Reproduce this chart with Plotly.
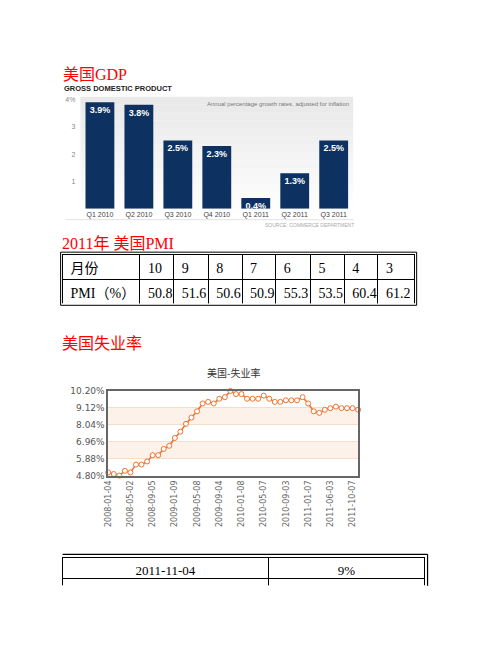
import plotly.graph_objects as go

# --- data ---
gdp_quarters = ["Q1 2010", "Q2 2010", "Q3 2010", "Q4 2010", "Q1 2011", "Q2 2011", "Q3 2011"]
gdp_growth = [3.9, 3.8, 2.5, 2.3, 0.4, 1.3, 2.5]

pmi_months = ["10", "9", "8", "7", "6", "5", "4", "3"]
pmi_values = ["50.8", "51.6", "50.6", "50.9", "55.3", "53.5", "60.4", "61.2"]

jobs_dates = [
    "2008-01-04", "2008-02-01", "2008-03-07", "2008-04-04", "2008-05-02", "2008-06-06",
    "2008-07-03", "2008-08-01", "2008-09-05", "2008-10-03", "2008-11-07", "2008-12-05",
    "2009-01-09", "2009-02-06", "2009-03-06", "2009-04-03", "2009-05-08", "2009-06-05",
    "2009-07-02", "2009-08-07", "2009-09-04", "2009-10-02", "2009-11-06", "2009-12-04",
    "2010-01-08", "2010-02-05", "2010-03-05", "2010-04-02", "2010-05-07", "2010-06-04",
    "2010-07-02", "2010-08-06", "2010-09-03", "2010-10-08", "2010-11-05", "2010-12-03",
    "2011-01-07", "2011-03-04", "2011-04-01", "2011-05-06", "2011-06-03", "2011-07-08",
    "2011-08-05", "2011-09-02", "2011-10-07", "2011-11-04",
]
jobless_rate = [
    5.0, 4.9, 4.8, 5.1, 5.0, 5.5, 5.5, 5.7, 6.1, 6.1, 6.5, 6.7,
    7.2, 7.6, 8.1, 8.5, 8.9, 9.4, 9.5, 9.4, 9.7, 9.8, 10.2, 10.0,
    10.0, 9.7, 9.7, 9.7, 9.9, 9.7, 9.5, 9.5, 9.6, 9.6, 9.6, 9.8,
    9.4, 8.9, 8.8, 9.0, 9.1, 9.2, 9.1, 9.1, 9.1, 9.0,
]
rate_ticks = [4.8, 5.88, 6.96, 8.04, 9.12, 10.2]
rate_tick_text = ["4.80%", "5.88%", "6.96%", "8.04%", "9.12%", "10.20%"]

latest_row = ["2011-11-04", "9%"]

# page is 502x649, the html body adds an 8px margin round the figure
W, H = 502, 649
PAD = 8
FW, FH = W - 2 * PAD, H - 2 * PAD


def fx(p):
    return (p - PAD) / FW


def fy(p):
    return 1 - (p - PAD) / FH


RED = "#ff0000"
SERIF = "Liberation Serif, Noto Sans CJK SC"
SANS = "Liberation Sans, Arial, sans-serif"
ORANGE = "#ee7430"

fig = go.Figure()

# --- GDP bars ---
fig.add_trace(go.Bar(
    x=gdp_quarters, y=gdp_growth,
    text=[f"{v}%" for v in gdp_growth],
    textposition="inside", insidetextanchor="end", textangle=0,
    textfont=dict(color="white", size=9, family=SANS, weight="bold"),
    marker=dict(color="#0d3262", line=dict(width=0)),
    xaxis="x", yaxis="y", hoverinfo="skip",
))

# --- unemployment line ---
fig.add_trace(go.Scatter(
    x=jobs_dates, y=jobless_rate, mode="lines+markers",
    line=dict(color=ORANGE, width=1.6),
    marker=dict(symbol="circle", size=5, color="white", line=dict(color=ORANGE, width=1)),
    xaxis="x2", yaxis="y2", cliponaxis=False,
))

# --- PMI table ---
fig.add_trace(go.Table(
    domain=dict(x=[fx(59), fx(414)], y=[fy(303), fy(253)]),
    columnwidth=[78, 34, 35, 34, 34, 35, 34, 34, 37],
    header=dict(
        values=["月份"] + pmi_months, height=25, align="left",
        font=dict(family=SERIF, size=14, color="black"),
        line=dict(color="black", width=1), fill_color="white",
    ),
    cells=dict(
        values=[["PMI（%）"]] + [[v] for v in pmi_values], height=25, align="left",
        font=dict(family=SERIF, size=14, color="black"),
        line=dict(color="black", width=1), fill_color="white",
    ),
))

# --- latest unemployment row ---
fig.add_trace(go.Table(
    domain=dict(x=[fx(59), fx(425)], y=[fy(590), fy(561)]),
    columnwidth=[208, 158],
    header=dict(
        values=latest_row, height=21, align="center",
        font=dict(family=SERIF, size=13, color="black"),
        line=dict(color="black", width=1), fill_color="white",
    ),
    cells=dict(
        values=[[""], [""]], height=8,
        line=dict(color="black", width=1), fill_color="white",
    ),
))

shapes = []
# light grey wash behind the GDP bars, fading towards the baseline
n_bands = 14
for i in range(n_bands):
    g = int(255 - (255 - 233) * (i + 1) / n_bands)
    shapes.append(dict(
        type="rect", xref="x domain", yref="y domain",
        x0=0, x1=1, y0=i / n_bands, y1=(i + 1) / n_bands,
        fillcolor=f"rgb({g},{g},{g})", line=dict(width=0), layer="below",
    ))
shapes.append(dict(type="line", xref="paper", yref="paper",
                   x0=fx(62), x1=fx(353), y0=fy(218), y1=fy(218),
                   line=dict(color="#e2e2e2", width=1)))
# shaded bands on the unemployment chart
for lo, hi in [(5.88, 6.96), (8.04, 9.12)]:
    shapes.append(dict(type="rect", xref="x2 domain", yref="y2",
                       x0=0, x1=1, y0=lo, y1=hi,
                       fillcolor="#fdf2ea", line=dict(width=0), layer="below"))
# double borders of the two tables
shapes.append(dict(type="rect", xref="paper", yref="paper",
                   x0=fx(57), x1=fx(416), y0=fy(305), y1=fy(251),
                   line=dict(color="black", width=1)))
shapes.append(dict(type="line", xref="paper", yref="paper",
                   x0=fx(59), x1=fx(427), y0=fy(558), y1=fy(558),
                   line=dict(color="black", width=1.2)))
shapes.append(dict(type="line", xref="paper", yref="paper",
                   x0=fx(427), x1=fx(427), y0=fy(558), y1=fy(590),
                   line=dict(color="black", width=1.2)))

annotations = [
    dict(text="美国GDP", x=fx(57), y=fy(70), font=dict(family=SERIF, size=16, color=RED)),
    dict(text="2011年 美国PMI", x=fx(56), y=fy(242), font=dict(family=SERIF, size=16, color=RED)),
    dict(text="美国失业率", x=fx(56), y=fy(344), font=dict(family=SERIF, size=16, color=RED)),
    dict(text="<b>GROSS DOMESTIC PRODUCT</b>", x=fx(58), y=fy(85),
         font=dict(family=SANS, size=7.5, color="#222")),
    dict(text="Annual percentage growth rates, adjusted for inflation", x=fx(350), y=fy(100),
         xanchor="right", font=dict(family=SANS, size=6, color="#777")),
    dict(text="SOURCE: COMMERCE DEPARTMENT", x=fx(355), y=fy(223), xanchor="right",
         font=dict(family=SANS, size=5, color="#aaa")),
    dict(text="美国-失业率", x=fx(231), y=fy(373), xanchor="center",
         font=dict(family="Noto Sans CJK SC", size=10, color="#333")),
]
for a in annotations:
    a.setdefault("xanchor", "left")
    a.update(xref="paper", yref="paper", yanchor="middle", showarrow=False)

fig.update_layout(
    width=FW, height=FH,
    margin=dict(l=0, r=0, t=0, b=0),
    paper_bgcolor="white", plot_bgcolor="rgba(0,0,0,0)",
    showlegend=False, bargap=0.26,
    uniformtext=dict(minsize=9, mode="show"),
    xaxis=dict(
        domain=[fx(77), fx(352)], anchor="y", type="category",
        showgrid=False, showline=False, ticks="",
        tickfont=dict(family=SANS, size=7, color="#444"),
    ),
    yaxis=dict(
        domain=[fy(207), fy(93)], anchor="x", range=[0, 4.1],
        tickvals=[1, 2, 3, 4], ticktext=["1", "2", "3", "4%"],
        showgrid=False, zeroline=False, showline=False, ticks="",
        ticklabelstandoff=4,
        tickfont=dict(family=SANS, size=7, color="#888"),
    ),
    xaxis2=dict(
        domain=[fx(105), fx(357)], anchor="y2", type="category",
        categoryorder="array", categoryarray=jobs_dates,
        range=[0, len(jobs_dates) - 1],
        tickvals=jobs_dates[::4], tickangle=-90,
        showgrid=False, showline=True, mirror=True, linecolor="#666", linewidth=1.5,
        ticks="", tickfont=dict(family="DejaVu Sans", size=8, color="#666"),
    ),
    yaxis2=dict(
        domain=[fy(478), fy(392)], anchor="x2", range=[4.8, 10.2],
        tickvals=rate_ticks, ticktext=rate_tick_text,
        showgrid=True, gridcolor="#f8dcc8", gridwidth=1, zeroline=False,
        showline=True, mirror=True, linecolor="#666", linewidth=1.5,
        ticks="", tickfont=dict(family="DejaVu Sans", size=9, color="#555"),
    ),
    shapes=shapes,
    annotations=annotations,
)

fig.write_html("out.html")
